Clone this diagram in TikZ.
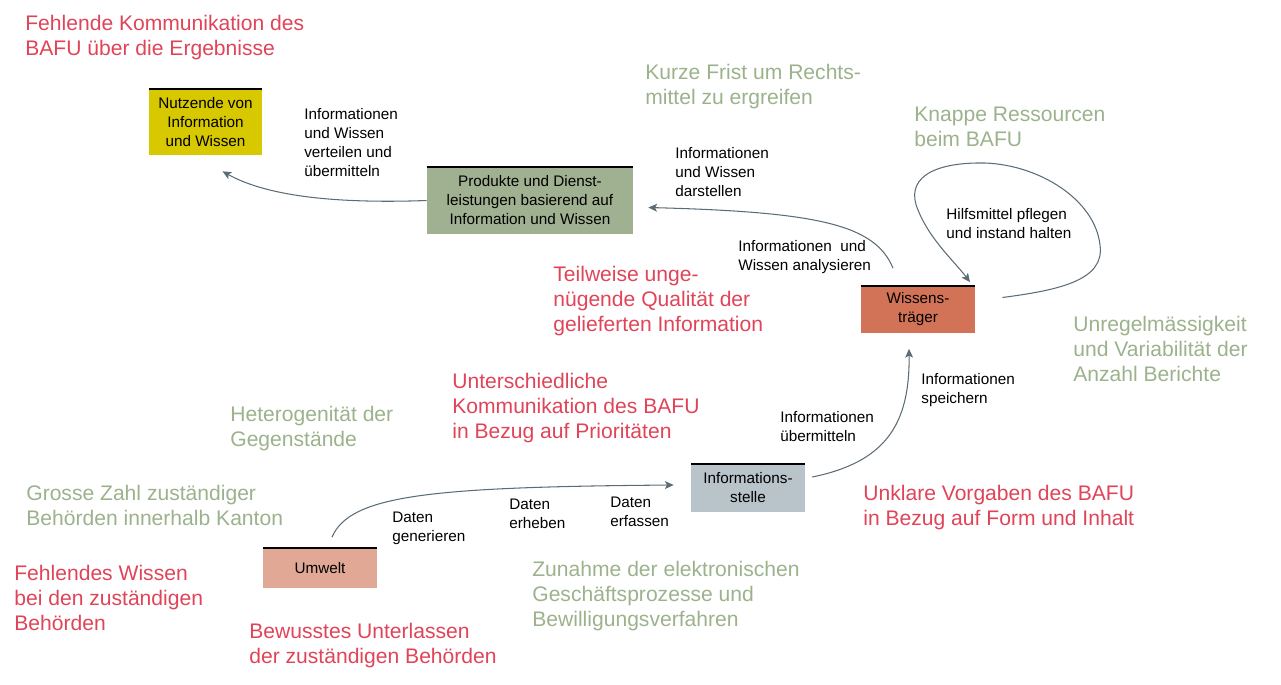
\documentclass[tikz,border=0pt]{standalone}
\usepackage{fontspec}
\setmainfont{Liberation Sans}
\usetikzlibrary{arrows.meta}
\definecolor{issuered}{RGB}{224,68,88}
\definecolor{issuegreen}{RGB}{156,178,140}
\definecolor{flowgray}{RGB}{92,108,118}
\definecolor{nutzfill}{RGB}{216,200,0}
\definecolor{prodfill}{RGB}{160,177,145}
\definecolor{wissfill}{RGB}{210,114,86}
\definecolor{stellefill}{RGB}{184,196,202}
\definecolor{umweltfill}{RGB}{226,168,150}
\newcommand\infobox[6]{%
\node[infonode, fill=#5, minimum width=#3, minimum height=#4] (#1) at (#2) {#6};
\draw[boxtop] (#1.north west) -- (#1.north east);
}

\begin{document}
\begin{tikzpicture}[x=0.02cm, y=-0.02cm,
    infonode/.style={inner sep=1pt, align=center, font=\fontsize{8.7}{10.8}\selectfont},
    boxtop/.style={line width=1.1pt, black},
    flowarrow/.style={draw=flowgray, line width=0.6pt, -{Stealth[length=5pt, width=4.5pt, inset=1.2pt]}},
    lbl/.style={anchor=north west, inner sep=0, align=left, font=\fontsize{8.7}{10.8}\selectfont},
    redtxt/.style={anchor=north west, inner sep=0, align=left, text=issuered, font=\fontsize{12}{14.2}\selectfont},
    greentxt/.style={redtxt, text=issuegreen}]
  \useasboundingbox (0,0) rectangle (1281,684);

  %% the five stations
  \infobox{nutzende}{205.5,122}{2.26cm}{1.32cm}{nutzfill}{Nutzende von\\Information\\und Wissen}
  \infobox{produkte}{530,200.5}{4.12cm}{1.32cm}{prodfill}{Produkte und Dienst-\\leistungen basierend auf\\Information und Wissen}
  \infobox{wissen}{918,309.5}{2.28cm}{0.92cm}{wissfill}{Wissens-\\träger}
  \infobox{stelle}{748,488}{2.28cm}{0.94cm}{stellefill}{Informations-\\stelle}
  \infobox{umwelt}{320,568}{2.28cm}{0.78cm}{umweltfill}{Umwelt}

  %% flows between them
  \draw[flowarrow] ([shift={(12,-11)}]umwelt.north) .. controls (350,495) and (430,487) .. ([shift={(-17,-3)}]stelle.west);
  \draw[flowarrow] ([shift={(7,-11)}]stelle.east) .. controls (885,462) and (910,425) .. ([shift={(-9,16)}]wissen.south);
  \draw[flowarrow] ([shift={(-25,-18)}]wissen.north) .. controls (875,225) and (820,212) .. ([shift={(15,7)}]produkte.east);
  \draw[flowarrow] (produkte.west) .. controls (330,204) and (265,195) .. ([shift={(17,16)}]nutzende.south);
  % loop on Wissenstraeger
  \draw[flowarrow] ([shift={(27,-12)}]wissen.east) .. controls (1060,290) and (1105,280) .. (1100,245)
    .. controls (1095,200) and (1040,165) .. (985,163)
    .. controls (930,162) and (905,180) .. (918,210)
    .. controls (930,240) and (955,262) .. ([shift={(52,-4)}]wissen.north);

  %% flow labels
  \node[lbl] (lverteilen) at (304,108) {Informationen\\und Wissen\\verteilen und\\übermitteln};
  \node[lbl] (ldarstellen) at (675,147) {Informationen\\und Wissen\\darstellen};
  \node[lbl] (lanalysieren) at (738,240) {Informationen~~und\\Wissen analysieren};
  \node[lbl] (lpflegen) at (946,208) {Hilfsmittel pflegen\\und instand halten};
  \node[lbl] (lspeichern) at (921,373) {Informationen\\speichern};
  \node[lbl] (luebermitteln) at (780,411) {Informationen\\übermitteln};
  \node[lbl] (lgenerieren) at (392,512) {Daten\\generieren};
  \node[lbl] (lerheben) at (509,499) {Daten\\erheben};
  \node[lbl] (lerfassen) at (610,497) {Daten\\erfassen};

  %% problems (red)
  \node[redtxt] (rkommunikation) at (25,15) {Fehlende Kommunikation des\\BAFU über die Ergebnisse};
  \node[redtxt] (rqualitaet) at (553,266) {Teilweise unge-\\nügende Qualität der\\gelieferten Information};
  \node[redtxt] (rprioritaeten) at (452,373) {Unterschiedliche\\Kommunikation des BAFU\\in Bezug auf Prioritäten};
  \node[redtxt] (rvorgaben) at (863,485) {Unklare Vorgaben des BAFU\\in Bezug auf Form und Inhalt};
  \node[redtxt] (rwissen) at (14,565) {Fehlendes Wissen\\bei den zuständigen\\Behörden};
  \node[redtxt] (runterlassen) at (249,623) {Bewusstes Unterlassen\\der zuständigen Behörden};

  %% context factors (green)
  \node[greentxt] (gfrist) at (645,64) {Kurze Frist um Rechts-\\mittel zu ergreifen};
  \node[greentxt] (gressourcen) at (914,107) {Knappe Ressourcen\\beim BAFU};
  \node[greentxt] (gberichte) at (1073,316) {Unregelmässigkeit\\und Variabilität der\\Anzahl Berichte};
  \node[greentxt] (ggegenstaende) at (230,406) {Heterogenität der\\Gegenstände};
  \node[greentxt] (gbehoerden) at (26,485) {Grosse Zahl zuständiger\\Behörden innerhalb Kanton};
  \node[greentxt] (gzunahme) at (532,561) {Zunahme der elektronischen\\Geschäftsprozesse und\\Bewilligungsverfahren};
\end{tikzpicture}
\end{document}
